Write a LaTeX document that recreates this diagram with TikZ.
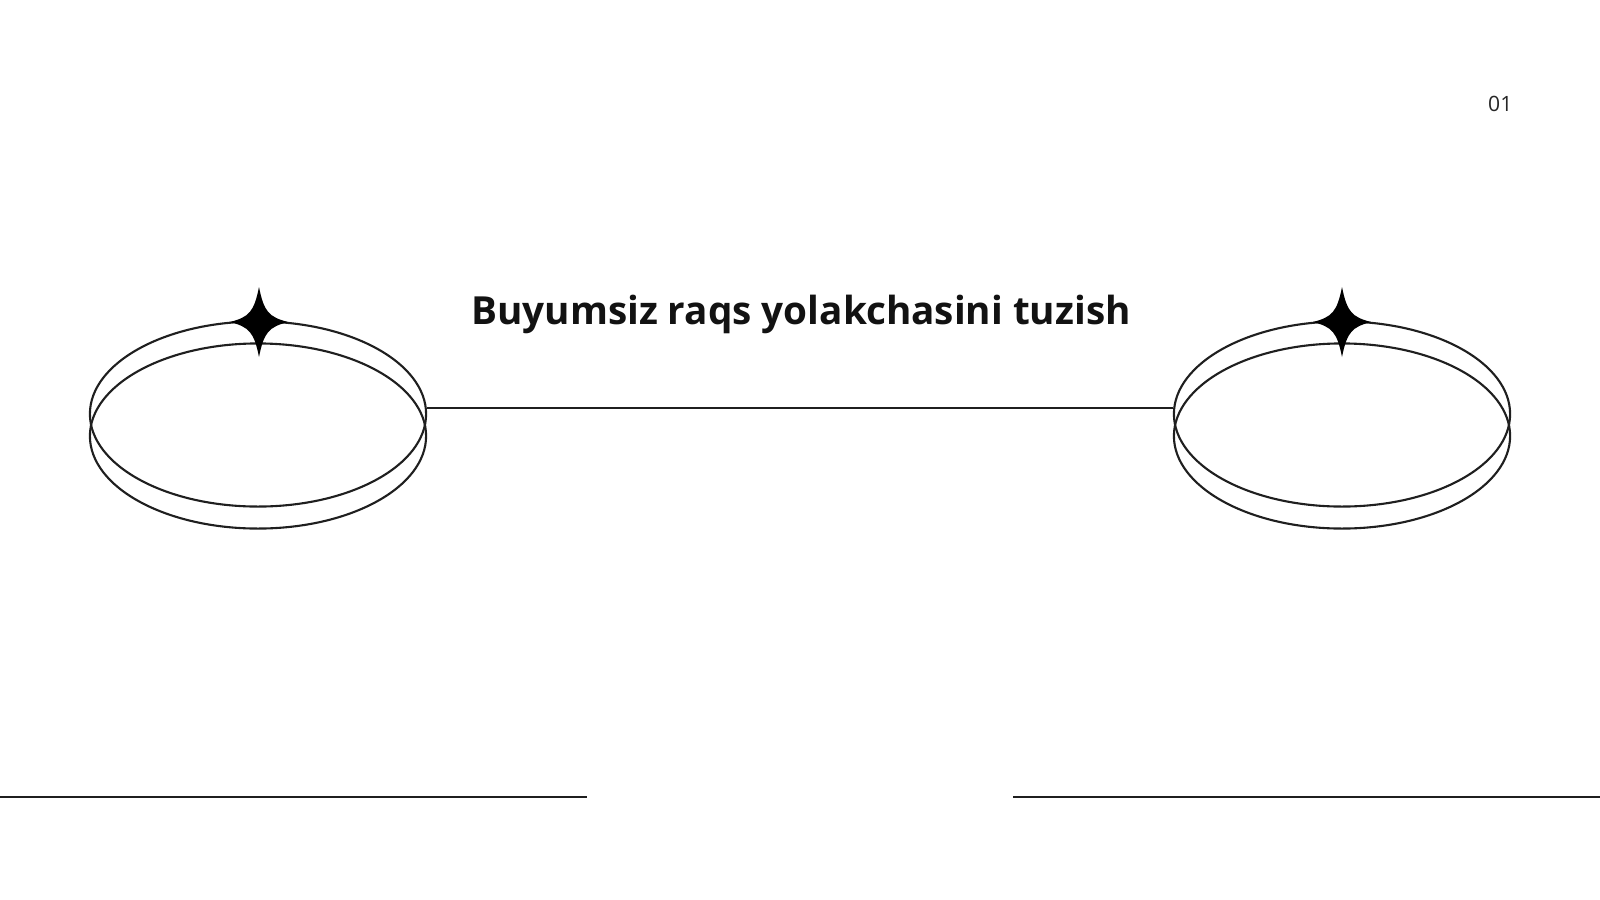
\documentclass[tikz,border=0pt]{standalone}
\usepackage{fontspec}
\setmainfont{Open Sans}
\usetikzlibrary{shapes.geometric}

\begin{document}
\begin{tikzpicture}[x=0.01cm,y=-0.01cm,
        ring/.style={draw=black!88,line width=0.6pt,ellipse,inner sep=0pt,
            minimum width=3.36cm,minimum height=1.85cm},
        rule/.style={draw=black!88,line width=0.6pt}]
        \useasboundingbox (0,0) rectangle (1600,900);
        % two rings on each side
        \node[ring] (lring) at (258,414) {};
        \node[ring] (lringlow) at (258,436) {};
        \node[ring] (rring) at (1342,414) {};
        \node[ring] (rringlow) at (1342,436) {};
        \draw[rule,line width=0.5pt] ([yshift=1.7pt]lring.east) -- ([yshift=1.7pt]rring.west);
        % sparkles on top of the rings
        \foreach \cx in {259,1342}{
            \fill[black] (\cx,287) .. controls (\cx+5,312) and (\cx+10,317) .. (\cx+29,322)
                .. controls (\cx+10,327) and (\cx+5,332) .. (\cx,357)
                .. controls (\cx-5,332) and (\cx-10,327) .. (\cx-29,322)
                .. controls (\cx-10,317) and (\cx-5,312) .. (\cx,287) -- cycle;
        }
        \node[anchor=base,inner sep=0pt,font=\fontsize{11pt}{13pt}\selectfont\bfseries,text=black!93] (title) at (801,324) {Buyumsiz raqs yolakchasini tuzish};
        \node[anchor=base east,inner sep=0pt,font=\fontsize{6pt}{7pt}\selectfont,text=black!85] (pagenum) at (1513,111) {01};
        % bottom rules
        \draw[rule] (0,797) -- (587,797);
        \draw[rule] (1013,797) -- (1600,797);
    \end{tikzpicture}
\end{document}
